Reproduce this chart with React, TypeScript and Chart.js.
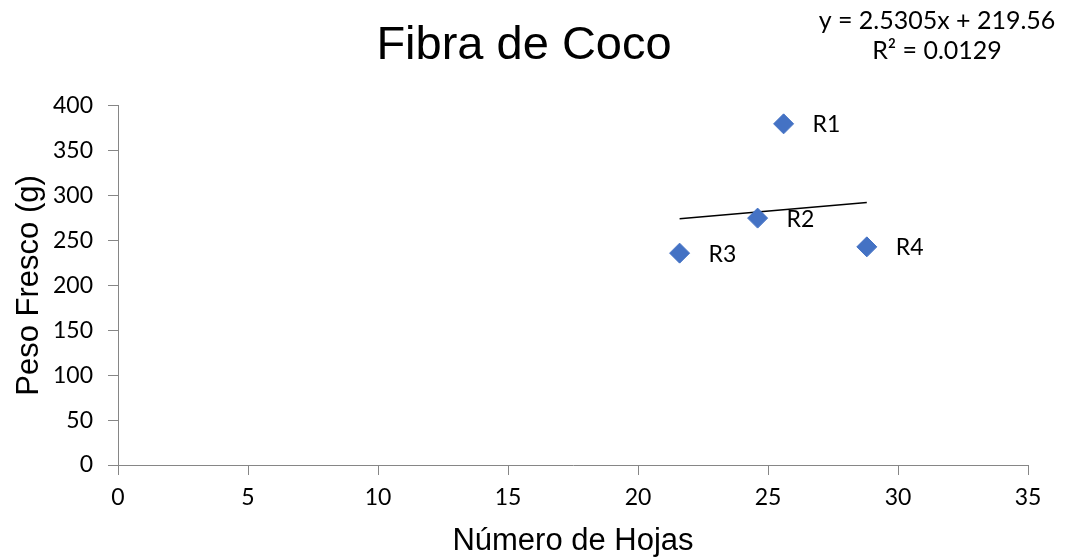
import { useEffect, useRef } from "react";
import { Chart, registerables } from "chart.js";

Chart.register(...registerables);

// ---- Data ----
const pointNames: string[] = ["R1", "R2", "R3", "R4"];
const numeroHojas: number[] = [25.6, 24.6, 21.6, 28.8];
const pesoFresco: number[] = [380, 275, 236, 243];
const trendSlope = 2.5305;
const trendIntercept = 219.56;
const rSquared = "0.0129";
const xTickValues: number[] = [0, 5, 10, 15, 20, 25, 30, 35];
const yTickValues: number[] = [0, 50, 100, 150, 200, 250, 300, 350, 400];

const TICK_FONT = "Lato";
const TITLE_FONT = "'Liberation Sans', Arial, sans-serif";
const AXIS_GRAY = "#868686";
const MARKER_BLUE = "#4472C4";

export default function App() {
  const canvasRef = useRef<HTMLCanvasElement | null>(null);

  useEffect(() => {
    const canvas = canvasRef.current;
    if (!canvas) return;

    const xMin = Math.min(...numeroHojas);
    const xMax = Math.max(...numeroHojas);
    const trendData = [
      { x: xMin, y: trendSlope * xMin + trendIntercept },
      { x: xMax, y: trendSlope * xMax + trendIntercept },
    ];

    const labelPlugin = {
      id: "pointLabels",
      afterDatasetsDraw(chart: any) {
        const meta = chart.getDatasetMeta(0);
        const ctx = chart.ctx;
        ctx.save();
        ctx.font = `23px ${TICK_FONT}`;
        ctx.fillStyle = "#000";
        ctx.textAlign = "left";
        ctx.textBaseline = "middle";
        meta.data.forEach((el: any, i: number) => {
          ctx.fillText(pointNames[i], el.x + 29, el.y + 1);
        });
        ctx.restore();
      },
    };

    const equationPlugin = {
      id: "equation",
      afterDraw(chart: any) {
        const ctx = chart.ctx;
        ctx.save();
        ctx.font = `25px ${TICK_FONT}`;
        ctx.fillStyle = "#000";
        ctx.textAlign = "center";
        ctx.textBaseline = "middle";
        ctx.fillText(`y = ${trendSlope}x + ${trendIntercept}`, 937, 21);
        ctx.fillText(`R² = ${rSquared}`, 937, 51);
        ctx.restore();
      },
    };

    const chart = new Chart(canvas, {
      type: "scatter",
      data: {
        datasets: [
          {
            label: "Fibra de Coco",
            data: numeroHojas.map((x, i) => ({ x, y: pesoFresco[i] })),
            pointStyle: "rectRot",
            pointRadius: 10,
            pointHoverRadius: 10,
            backgroundColor: MARKER_BLUE,
            borderColor: MARKER_BLUE,
            borderWidth: 1,
            order: 1,
          },
          {
            type: "line",
            label: "Tendencia",
            data: trendData,
            borderColor: "#000",
            borderWidth: 1.5,
            pointRadius: 0,
            fill: false,
            order: 2,
          } as any,
        ],
      },
      options: {
        responsive: false,
        animation: false,
        layout: { padding: { top: 0, left: 0, right: 20, bottom: 0 } },
        plugins: {
          legend: { display: false },
          tooltip: { enabled: false },
          title: {
            display: true,
            text: "Fibra de Coco",
            color: "#000",
            font: { family: TITLE_FONT, size: 47, weight: "normal" },
            padding: { top: 18, bottom: 31.5 },
          },
        },
        scales: {
          x: {
            type: "linear",
            min: 0,
            max: 35,
            afterBuildTicks: (axis: any) => {
              axis.ticks = xTickValues.map((v) => ({ value: v }));
            },
            afterFit: (axis: any) => {
              axis.paddingRight = 40;
              axis.height = 95;
            },
            grid: {
              display: true,
              drawOnChartArea: false,
              drawTicks: true,
              tickLength: 10,
              color: AXIS_GRAY,
            },
            border: { display: true, color: AXIS_GRAY, width: 1 },
            ticks: {
              color: "#000",
              font: { family: TICK_FONT, size: 23 },
              padding: 9,
            },
            title: {
              display: true,
              text: "Número de Hojas",
              color: "#000",
              font: { family: TITLE_FONT, size: 31 },
              padding: { top: 11, bottom: 0 },
            },
          },
          y: {
            type: "linear",
            min: 0,
            max: 400,
            afterBuildTicks: (axis: any) => {
              axis.ticks = yTickValues.map((v) => ({ value: v }));
            },
            afterFit: (axis: any) => {
              axis.width = 118;
            },
            grid: {
              display: true,
              drawOnChartArea: false,
              drawTicks: true,
              tickLength: 10,
              color: AXIS_GRAY,
            },
            border: { display: true, color: AXIS_GRAY, width: 1 },
            ticks: {
              color: "#000",
              font: { family: TICK_FONT, size: 23 },
              padding: 15,
            },
            title: {
              display: true,
              text: "Peso Fresco (g)",
              color: "#000",
              font: { family: TITLE_FONT, size: 31 },
              padding: { top: 11, bottom: 5 },
            },
          },
        },
      },
      plugins: [labelPlugin, equationPlugin],
    });

    return () => chart.destroy();
  }, []);

  return (
    <div style={{ position: "fixed", left: 0, top: 0, width: 1068, height: 560, background: "#fff" }}>
      <canvas ref={canvasRef} width={1068} height={560} style={{ display: "block" }} />
    </div>
  );
}
